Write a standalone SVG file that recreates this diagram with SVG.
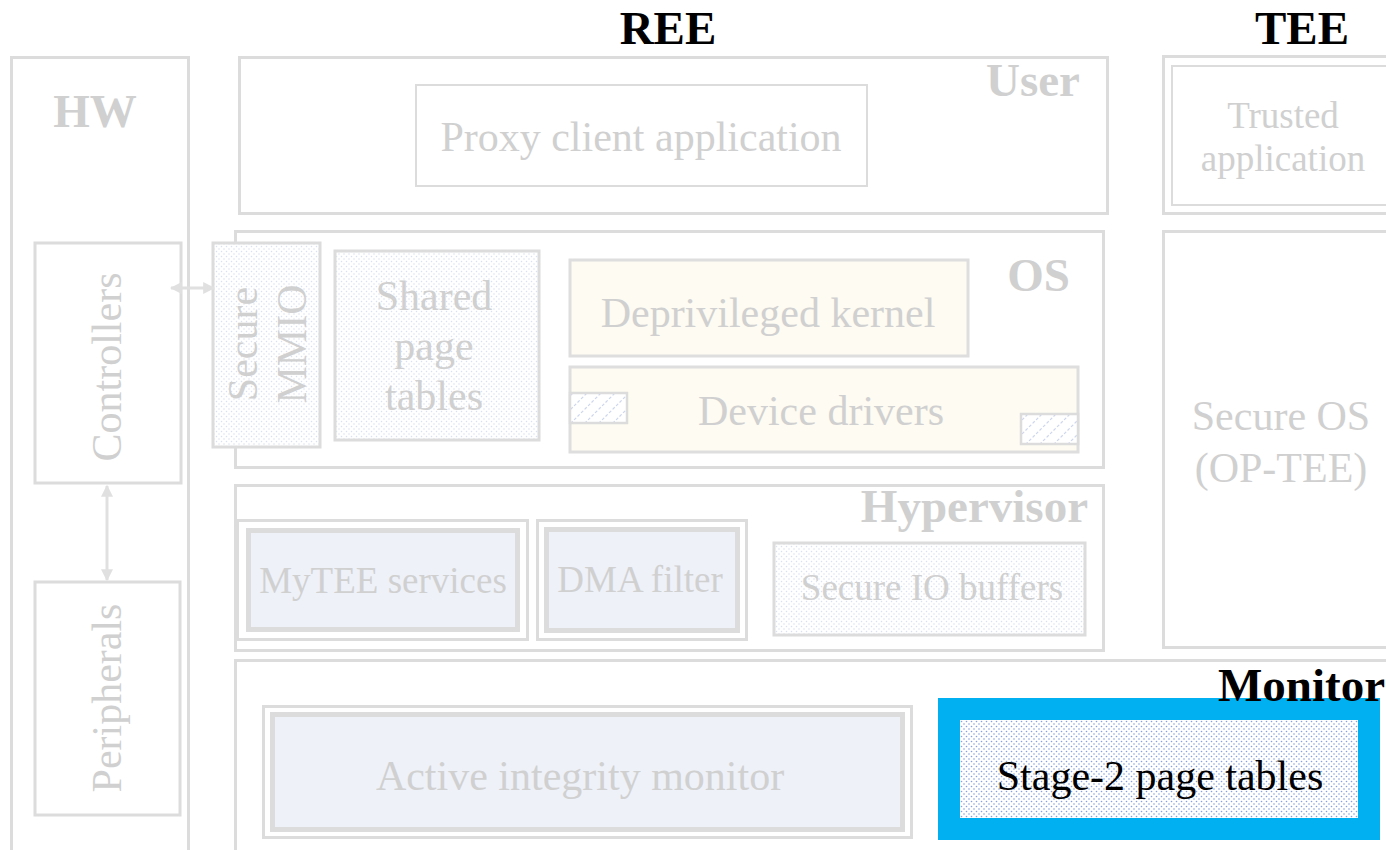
<svg xmlns="http://www.w3.org/2000/svg" width="1386" height="850" viewBox="0 0 1386 850">
  <defs>
    <pattern id="dots" width="5" height="5" patternUnits="userSpaceOnUse">
      <rect width="5" height="5" fill="#ffffff"/>
      <circle cx="1.5" cy="1.5" r="0.75" fill="#d8e0f2"/>
      <circle cx="4" cy="4" r="0.75" fill="#d8e0f2"/>
    </pattern>
    <pattern id="dotsDark" width="5" height="5" patternUnits="userSpaceOnUse">
      <rect width="5" height="5" fill="#ffffff"/>
      <circle cx="1.5" cy="1.5" r="0.8" fill="#86a0dc"/>
      <circle cx="4" cy="4" r="0.8" fill="#86a0dc"/>
    </pattern>
    <pattern id="hatch" width="14" height="14" patternUnits="userSpaceOnUse">
      <rect width="14" height="14" fill="#ffffff"/>
      <path d="M0 14 L14 0 M-7 7 L7 -7 M7 21 L21 7" stroke="#cdd6ec" stroke-width="1.2" stroke-dasharray="3 2"/>
    </pattern>
    <marker id="arrowHead" viewBox="0 0 10 10" refX="9" refY="5" markerWidth="4" markerHeight="4" orient="auto-start-reverse" markerUnits="strokeWidth">
      <path d="M0 0 L10 5 L0 10 Z" fill="#e0e0e0"/>
    </marker>
    <style>
      .frame { fill: none; stroke: #dcdcdc; stroke-width: 3; }
      .box { fill: #ffffff; stroke: #dcdcdc; stroke-width: 3; }
      .thin { fill: #ffffff; stroke: #dcdcdc; stroke-width: 2; }
      .dotted { fill: url(#dots); stroke: #dcdcdc; stroke-width: 3; }
      .cream { fill: #fdfbf2; stroke: #dedede; stroke-width: 3; }
      .hatched { fill: url(#hatch); stroke: #dcdcdc; stroke-width: 2.5; }
      .svc { fill: #eef1f8; stroke: #dcdcdc; stroke-width: 5; }
      .label { font-family: "Liberation Serif", "Times New Roman", serif; font-size: 42px; fill: #d0d0d0; text-anchor: middle; }
      .small { font-size: 37px; }
      .head { font-family: "Liberation Serif", "Times New Roman", serif; font-size: 47px; font-weight: bold; fill: #d0d0d0; }
      .black { fill: #000000; }
      .conn { stroke: #e0e0e0; stroke-width: 3; fill: none; marker-start: url(#arrowHead); marker-end: url(#arrowHead); }
    </style>
  </defs>

  <rect width="1386" height="850" fill="#ffffff"/>

  <!-- Column headings -->
  <text class="head black" x="668" y="44" text-anchor="middle">REE</text>
  <text class="head black" x="1302" y="44" text-anchor="middle">TEE</text>

  <!-- Hardware column -->
  <g id="hw">
    <rect class="frame" x="11.5" y="57.5" width="177" height="820"/>
    <text class="head" x="95" y="127" text-anchor="middle">HW</text>
  </g>
  <g id="controllers">
    <rect class="box" x="35" y="243" width="146" height="240"/>
    <text class="label" transform="translate(121 367) rotate(-90)">Controllers</text>
  </g>
  <g id="peripherals">
    <rect class="box" x="35" y="582" width="145" height="233"/>
    <text class="label" transform="translate(121 698) rotate(-90)">Peripherals</text>
  </g>

  <!-- REE user level -->
  <g id="user">
    <rect class="frame" x="239.5" y="57.5" width="868" height="156"/>
    <text class="head" x="1080" y="96" text-anchor="end">User</text>
  </g>
  <g id="proxy-client">
    <rect class="thin" x="416" y="85" width="451" height="101"/>
    <text class="label" x="641" y="151">Proxy client application</text>
  </g>

  <!-- REE kernel level -->
  <g id="os">
    <rect class="frame" x="235.5" y="231.5" width="868" height="236"/>
    <text class="head" x="1070" y="291" text-anchor="end">OS</text>
  </g>
  <g id="secure-mmio">
    <rect class="dotted" x="213" y="243" width="107" height="204"/>
    <text class="label" transform="translate(257 344) rotate(-90)">Secure</text>
    <text class="label" transform="translate(306 344) rotate(-90)">MMIO</text>
  </g>
  <g id="shared-page-tables">
    <rect class="dotted" x="335" y="251" width="204" height="189"/>
    <text class="label" x="434" y="310">Shared</text>
    <text class="label" x="434" y="360">page</text>
    <text class="label" x="434" y="410">tables</text>
  </g>
  <g id="deprivileged-kernel">
    <rect class="cream" x="570" y="260" width="398" height="96"/>
    <text class="label" x="768" y="327">Deprivileged kernel</text>
  </g>
  <g id="device-drivers">
    <rect class="cream" x="570" y="367" width="508" height="85"/>
    <rect class="hatched" x="570" y="393" width="57" height="30"/>
    <rect class="hatched" x="1021" y="414" width="57" height="30"/>
    <text class="label" x="821" y="425">Device drivers</text>
  </g>

  <!-- REE hypervisor level -->
  <g id="hypervisor">
    <rect class="frame" x="235.5" y="485.5" width="868" height="165"/>
    <text class="head" x="1088" y="522" text-anchor="end">Hypervisor</text>
  </g>
  <g id="mytee-services">
    <rect class="box" x="237.5" y="520.5" width="290" height="119"/>
    <rect class="svc" x="248.5" y="530.5" width="269" height="99"/>
    <text class="label small" x="383" y="593">MyTEE services</text>
  </g>
  <g id="dma-filter">
    <rect class="box" x="537.5" y="520.5" width="209" height="119"/>
    <rect class="svc" x="546.5" y="529.5" width="191" height="101"/>
    <text class="label small" x="640" y="592">DMA filter</text>
  </g>
  <g id="secure-io-buffers">
    <rect class="dotted" x="774" y="543" width="311" height="92"/>
    <text class="label small" x="932" y="600">Secure IO buffers</text>
  </g>

  <!-- Monitor level -->
  <g id="active-integrity-monitor">
    <rect class="box" x="263.5" y="706.5" width="648" height="131"/>
    <rect class="svc" x="272.5" y="714.5" width="630" height="115"/>
    <text class="label" x="580" y="790">Active integrity monitor</text>
  </g>
  <g id="stage2-page-tables">
    <rect x="949" y="709" width="420" height="120" fill="url(#dotsDark)" stroke="#00b0f0" stroke-width="22"/>
    <text class="label black" x="1160" y="790">Stage-2 page tables</text>
  </g>
  <g id="monitor">
    <rect class="frame" x="235.5" y="660.5" width="1200" height="300"/>
    <text class="head black" x="1385" y="701" text-anchor="end">Monitor</text>
  </g>

  <!-- TEE column -->
  <g id="trusted-application">
    <rect class="box" x="1163.5" y="56.5" width="240" height="157"/>
    <rect class="thin" x="1172" y="66" width="230" height="139"/>
    <text class="label small" x="1283" y="128">Trusted</text>
    <text class="label small" x="1283" y="171">application</text>
  </g>
  <g id="secure-os">
    <rect class="box" x="1163.5" y="231.5" width="240" height="416"/>
    <text class="label" x="1281" y="430">Secure OS</text>
    <text class="label" x="1281" y="482">(OP-TEE)</text>
  </g>

  <!-- Connectors -->
  <g id="connectors">
    <line class="conn" x1="171" y1="288" x2="214" y2="288"/>
    <line class="conn" x1="107" y1="486" x2="107" y2="580"/>
  </g>
</svg>
